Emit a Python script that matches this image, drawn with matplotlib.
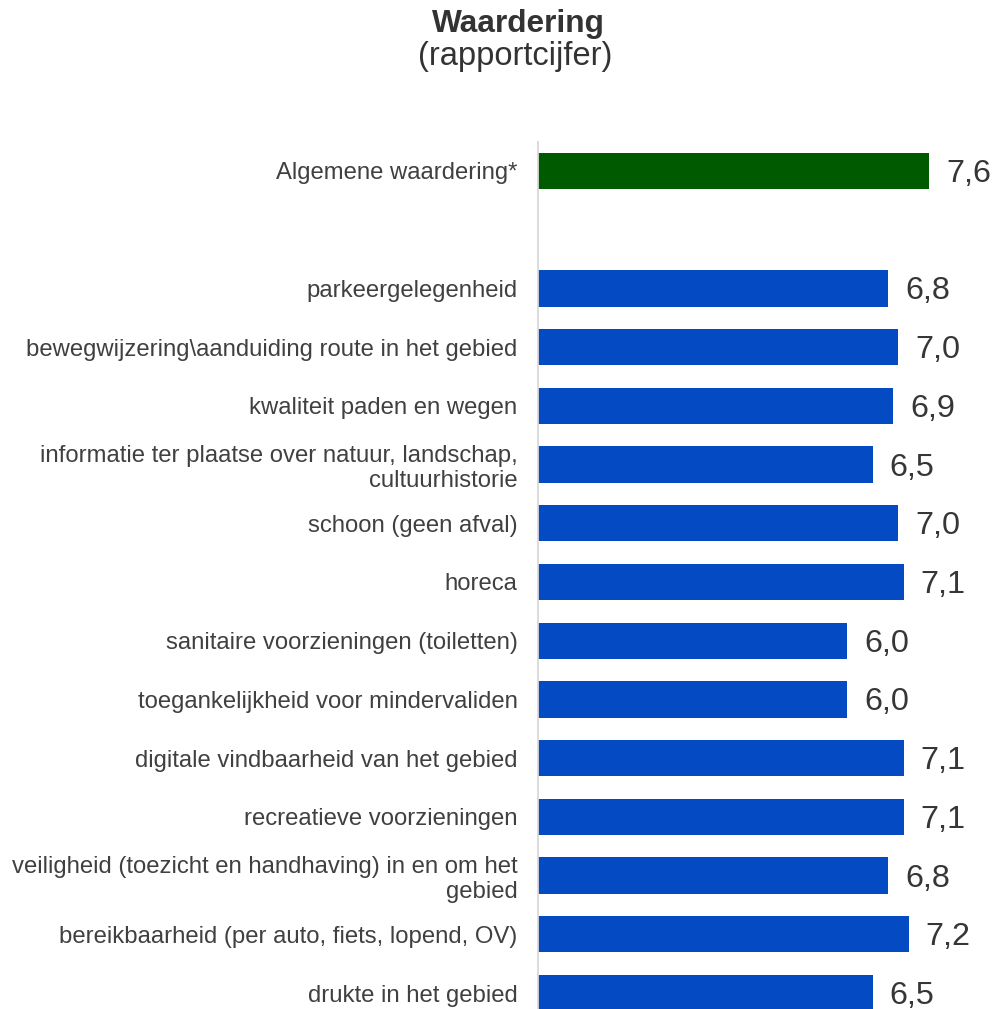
import matplotlib
matplotlib.use("Agg")
import matplotlib.pyplot as plt

plt.rcParams['font.family'] = ['Liberation Sans', 'DejaVu Sans']

overall_label = "Algemene waardering*"
overall_value = 7.6
categories = [
    "parkeergelegenheid",
    "bewegwijzering\\aanduiding route in het gebied",
    "kwaliteit paden en wegen",
    "informatie ter plaatse over natuur, landschap,\ncultuurhistorie",
    "schoon (geen afval)",
    "horeca",
    "sanitaire voorzieningen (toiletten)",
    "toegankelijkheid voor mindervaliden",
    "digitale vindbaarheid van het gebied",
    "recreatieve voorzieningen",
    "veiligheid (toezicht en handhaving) in en om het\ngebied",
    "bereikbaarheid (per auto, fiets, lopend, OV)",
    "drukte in het gebied",
]
values = [6.8, 7.0, 6.9, 6.5, 7.0, 7.1, 6.0, 6.0, 7.1, 7.1, 6.8, 7.2, 6.5]

W, H = 994, 1009
fig = plt.figure(figsize=(W / 100, H / 100), dpi=100)
fig.patch.set_facecolor('white')

ax_left = 538.3 / W
ax_width = 437.3 / W
ax_top = 141.6
ax_bottom = 1022.4
ax = fig.add_axes([ax_left, 1 - ax_bottom / H, ax_width, (ax_bottom - ax_top) / H])

text_color = '#404040'
green = '#005A00'
blue = '#034AC3'

positions = [0] + [i + 2 for i in range(len(categories))]
labels = [overall_label] + categories
vals = [overall_value] + values
colors = [green] + [blue] * len(categories)

bar_h = 0.618
ax.barh(positions, vals, height=bar_h, color=colors, zorder=2)

for p, v in zip(positions, vals):
    ax.annotate(f"{v:.1f}".replace('.', ','), xy=(v, p), xytext=(17, -3),
                textcoords='offset pixels', ha='left', va='center',
                fontsize=23.3, color='#363636', annotation_clip=False)

ax.set_xlim(0, 8.5)
ax.set_ylim(14.5, -0.5)
ax.set_yticks(positions)
ax.set_yticklabels(labels, fontsize=17.2, color=text_color, linespacing=1.15)
ax.tick_params(axis='y', length=0, pad=15)
ax.set_xticks([])
for s in ['top', 'right', 'bottom']:
    ax.spines[s].set_visible(False)
ax.spines['left'].set_color('#d9d9d9')
ax.spines['left'].set_linewidth(1.3)

fig.text(518 / W, 1 - 32 / H, "Waardering", ha='center', va='baseline',
         fontsize=22.8, fontweight='bold', color='#333333')
fig.text(515 / W, 1 - 65 / H, "(rapportcijfer)", ha='center', va='baseline',
         fontsize=23.5, color='#333333')

fig.savefig("out.png", dpi=100, facecolor='white')
